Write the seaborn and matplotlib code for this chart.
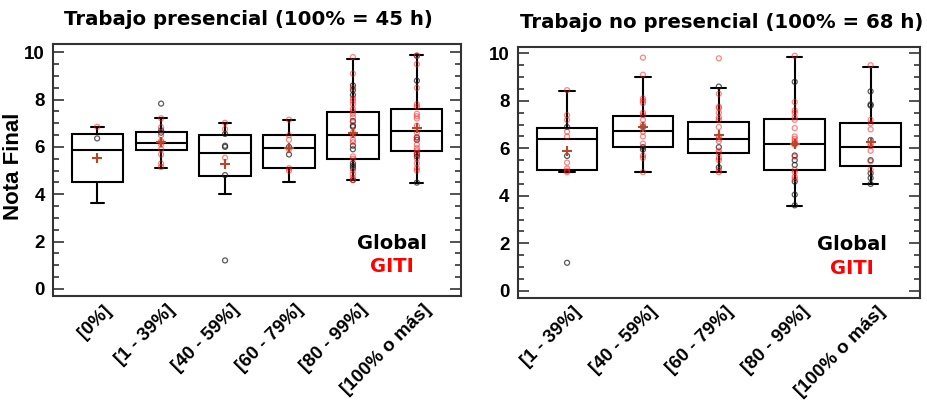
import numpy as np
import pandas as pd
import matplotlib
matplotlib.use("Agg")
import matplotlib.pyplot as plt
import matplotlib.transforms as mtransforms
from matplotlib.ticker import MultipleLocator
import seaborn as sns

sns.set_theme(style="white")
plt.rcParams["font.family"] = ["Liberation Sans", "DejaVu Sans"]
plt.rcParams["text.color"] = "black"
plt.rcParams["axes.labelcolor"] = "black"
plt.rcParams["xtick.color"] = "black"
plt.rcParams["ytick.color"] = "black"

# ---- Trabajo presencial ----
pres_cats = ["[0%]", "[1 - 39%]", "[40 - 59%]", "[60 - 79%]", "[80 - 99%]", "[100% o más]"]
pres_whislo = [3.64, 5.12, 4.00, 4.53, 4.58, 4.49]
pres_q1 = [4.53, 5.88, 4.75, 5.12, 5.47, 5.84]
pres_med = [5.88, 6.16, 5.75, 5.94, 6.49, 6.66]
pres_q3 = [6.56, 6.61, 6.49, 6.49, 7.46, 7.59]
pres_whishi = [6.85, 7.21, 7.02, 7.12, 9.73, 9.87]
pres_mean = [5.54, 6.22, 5.28, 5.95, 6.60, 6.78]
pres_global = [
    [6.36],
    [7.83, 6.70, 6.60],
    [6.55, 6.05, 6.00, 4.81, 1.20],
    [6.00, 5.68],
    [8.60, 8.40, 8.20, 7.10, 6.90, 6.85, 6.05, 5.90, 5.30, 5.20, 5.10, 4.60],
    [9.85, 8.80, 6.40, 6.30, 5.70, 5.60, 4.49],
]
pres_giti = [
    [6.85],
    [7.21, 6.83, 6.49, 6.25, 6.20, 6.10, 5.90, 5.68, 5.30, 5.15],
    [7.02, 6.75, 5.54],
    [7.15, 6.50, 6.30, 5.90, 5.10, 5.00],
    [9.80, 9.10, 8.50, 8.05, 7.95, 7.80, 7.60, 7.50, 7.40, 7.25, 7.05, 6.60,
     6.50, 6.30, 6.20, 5.60, 5.50, 5.00, 4.85, 4.70, 4.60],
    [9.87, 9.50, 8.50, 7.80, 7.70, 7.40, 7.30, 7.20, 6.90, 6.60, 6.40, 6.30,
     6.10, 5.95, 5.85, 5.75, 5.50, 5.30, 5.10, 5.00],
]

# ---- Trabajo no presencial ----
nopres_cats = ["[1 - 39%]", "[40 - 59%]", "[60 - 79%]", "[80 - 99%]", "[100% o más]"]
nopres_whislo = [5.00, 5.00, 5.00, 3.58, 4.49]
nopres_q1 = [5.07, 6.07, 5.79, 5.07, 5.25]
nopres_med = [6.38, 6.73, 6.38, 6.17, 6.05]
nopres_q3 = [6.87, 7.37, 7.13, 7.25, 7.05]
nopres_whishi = [8.43, 8.99, 8.55, 9.85, 9.44]
nopres_mean = [5.90, 6.88, 6.55, 6.20, 6.25]
nopres_global = [
    [6.90, 5.68, 1.18],
    [6.90, 6.05, 5.95],
    [8.60, 6.05, 5.20],
    [8.80, 6.20, 5.70, 5.50, 5.30, 4.60, 4.05, 3.60],
    [8.40, 7.85, 7.80, 6.35, 5.50, 4.95, 4.75, 4.50],
]
nopres_giti = [
    [8.45, 7.40, 7.20, 6.70, 6.50, 5.40, 5.15, 5.05, 5.00],
    [9.82, 9.10, 8.10, 8.00, 7.90, 7.50, 7.40, 7.20, 7.00, 6.70, 6.50, 6.20,
     5.70, 5.60, 5.00],
    [9.79, 8.30, 7.75, 7.70, 7.50, 7.30, 7.20, 6.90, 6.50, 6.40, 6.30, 5.90,
     5.80, 5.60, 5.50, 5.10, 5.00],
    [9.90, 7.95, 7.60, 7.50, 7.30, 7.20, 6.85, 6.50, 6.40, 6.30, 6.15, 5.65,
     5.10, 5.00, 4.80, 4.70],
    [9.50, 7.20, 7.05, 6.80, 6.20, 6.10, 5.90, 5.45, 5.10],
]

TICK_FONT = dict(family="Liberation Sans", weight="bold", size=13.5)
TITLE_FONT = dict(family="DejaVu Sans", weight="bold", size=14.2, color="black")
KEY_FONT = dict(family="DejaVu Sans", weight="bold", size=14)
RED = "#ff2020"
MEAN_COLOR = "#b5472b"


def long_table(cats, groups):
    rows = [(c, v) for c, vals in zip(cats, groups) for v in vals]
    return pd.DataFrame(rows, columns=["grupo", "nota"])


def draw_panel(fig, ax, cats, whislo, q1, med, q3, whishi, means, glob, giti,
               title, title_x, ylim, xlim):
    # five-number summary per group -> box with whiskers at min / max
    summary = long_table(cats, [list(t) for t in zip(whislo, q1, med, q3, whishi)])
    sns.boxplot(data=summary, x="grupo", y="nota", order=cats, ax=ax,
                whis=(0, 100), width=0.8, color="white", linecolor="black",
                linewidth=1.5, showfliers=False, capwidths=0.2)

    sns.stripplot(data=long_table(cats, glob), x="grupo", y="nota", order=cats,
                  ax=ax, jitter=False, size=3.6, marker="o", facecolor="none",
                  color="#222222", edgecolor="#222222", linewidth=0.9,
                  alpha=0.75, zorder=4)
    sns.stripplot(data=long_table(cats, giti), x="grupo", y="nota", order=cats,
                  ax=ax, jitter=False, size=3.6, marker="o", facecolor="none",
                  color=RED, edgecolor=RED, linewidth=0.9, alpha=0.55,
                  zorder=5)
    sns.stripplot(data=long_table(cats, [[m] for m in means]), x="grupo",
                  y="nota", order=cats, ax=ax, jitter=False, size=7,
                  marker="+", color=MEAN_COLOR, edgecolor=MEAN_COLOR,
                  linewidth=1.5, zorder=6)

    ax.set_xlim(*xlim)
    ax.set_ylim(*ylim)
    ax.yaxis.set_major_locator(MultipleLocator(2))
    ax.yaxis.set_minor_locator(MultipleLocator(0.5))
    ax.tick_params(axis="y", which="both", direction="in", left=True,
                   right=True, width=1.2, colors="#333333", labelcolor="black",
                   pad=6)
    ax.tick_params(axis="y", which="major", length=8)
    ax.tick_params(axis="y", which="minor", length=4.5)
    ax.tick_params(axis="x", bottom=False, pad=2, labelcolor="black")
    for lab in ax.get_yticklabels():
        lab.set_fontproperties(TICK_FONT)
        lab.set_fontsize(13.5)
        lab.set_color("black")
    ax.set_xticks(range(len(cats)))
    ax.set_xticklabels(cats, rotation=45, ha="right", rotation_mode="anchor",
                       fontfamily="Liberation Sans", fontweight="bold",
                       fontsize=13.5, color="black")
    shift = mtransforms.ScaledTranslation(4 / 72, 4 / 72, fig.dpi_scale_trans)
    for lab in ax.get_xticklabels():
        lab.set_transform(lab.get_transform() + shift)
    ax.set_xlabel("")
    ax.set_ylabel("")
    for s in ax.spines.values():
        s.set_color("#333333")
        s.set_linewidth(1.5)
        s.set_visible(True)
    ax.set_title(title, x=title_x, pad=13.5, **TITLE_FONT)
    ax.text(0.83, 0.21, "Global", transform=ax.transAxes, ha="center",
            va="center", color="black", **KEY_FONT)
    ax.text(0.83, 0.117, "GITI", transform=ax.transAxes, ha="center",
            va="center", color="red", **KEY_FONT)


fig = plt.figure(figsize=(9.27, 4.04), dpi=100)
ax1 = fig.add_axes([0.0572, 0.267, 0.4401, 0.624])
ax2 = fig.add_axes([0.5585, 0.2631, 0.4339, 0.6213])

draw_panel(fig, ax1, pres_cats, pres_whislo, pres_q1, pres_med, pres_q3,
           pres_whishi, pres_mean, pres_global, pres_giti,
           "Trabajo presencial (100% = 45 h)", 0.48, (-0.31, 10.35),
           (-0.69, 5.69))
draw_panel(fig, ax2, nopres_cats, nopres_whislo, nopres_q1, nopres_med,
           nopres_q3, nopres_whishi, nopres_mean, nopres_global, nopres_giti,
           "Trabajo no presencial (100% = 68 h)", 0.507, (-0.29, 10.28),
           (-0.65, 4.65))

ax1.set_ylabel("Nota Final", fontfamily="Liberation Sans", fontweight="bold",
               fontsize=16, color="black")
ax1.yaxis.set_label_coords(-0.071, 0.516)

fig.savefig("out.png", dpi=100, facecolor="white")
